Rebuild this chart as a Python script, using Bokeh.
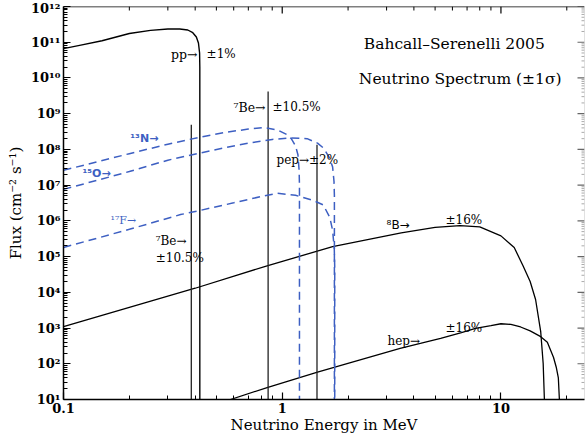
import math
from bokeh.plotting import figure
from bokeh.models import FixedTicker, Range1d, ColumnDataSource, CustomJSTickFormatter, Span
from bokeh.core.properties import value
from bokeh.embed import file_html
from bokeh.resources import INLINE

# ---------------- data ----------------
pp_E = [0.1, 0.12, 0.15, 0.2, 0.25, 0.3, 0.34, 0.37, 0.39, 0.405, 0.414, 0.419, 0.42, 0.42]
pp_flux = [6.6e10, 8.3e10, 1.1e11, 1.75e11, 2.15e11, 2.35e11, 2.35e11, 2.2e11, 1.85e11,
           1.4e11, 9.5e10, 5e10, 2e10, 1e1]

b8_E = [0.1, 0.2, 0.4, 0.86, 1.7, 3.5, 5.0, 6.5, 8.0, 10.0, 11.5, 12.6, 13.6, 14.4, 15.2, 15.6, 15.8]
b8_flux = [1.1e3, 3.8e3, 1.3e4, 5.6e4, 1.9e5, 4.6e5, 6.6e5, 7.4e5, 6.8e5, 3.8e5, 1.8e5,
           5.6e4, 2.0e4, 6.3e3, 7.9e2, 1e2, 1e1]

hep_E = [0.58, 0.86, 1.45, 3.46, 4.28, 5.3, 6.6, 7.65, 9.0, 10.0, 11.1, 12.3, 13.6, 15.2,
         16.3, 17.4, 17.9, 18.3, 18.5]
hep_flux = [1e1, 22, 58, 270, 370, 510, 740, 980, 1.17e3, 1.32e3, 1.26e3, 1.07e3, 830, 575,
            400, 150, 80, 40, 1e1]

n13_E = [0.1, 0.2, 0.3, 0.42, 0.55, 0.7, 0.82, 0.95, 1.05, 1.1, 1.15, 1.18, 1.195, 1.199, 1.199]
n13_flux = [2.6e7, 7.6e7, 1.4e8, 2.2e8, 3.0e8, 3.7e8, 4.1e8, 3.5e8, 2.6e8, 2.0e8, 1.26e8,
            7.1e7, 2.5e7, 1e7, 1e1]

o15_E = [0.1, 0.2, 0.3, 0.42, 0.55, 0.7, 0.9, 1.1, 1.3, 1.45, 1.55, 1.65, 1.70, 1.725, 1.732, 1.732]
o15_flux = [7.6e6, 2.4e7, 5.0e7, 7.9e7, 1.12e8, 1.5e8, 1.9e8, 2.1e8, 2.0e8, 1.5e8, 1.07e8,
            5.6e7, 3.2e7, 1.26e7, 5e6, 1e1]

f17_E = [0.1, 0.2, 0.343, 0.42, 0.6, 0.8, 0.95, 1.15, 1.39, 1.54, 1.65, 1.70, 1.73, 1.738, 1.738]
f17_flux = [1.8e5, 5.8e5, 1.5e6, 1.95e6, 3.2e6, 4.8e6, 5.9e6, 5.2e6, 3.7e6, 2.8e6, 1.26e6,
            5.4e5, 1.6e5, 5e4, 1e1]

line_E = [0.384, 0.862, 1.442]          # 7Be, 7Be, pep lines
line_flux = [4.9e8, 4.2e9, 1.35e8]

x_ticks = [0.1, 1, 10]
x_tick_labels = ["0.1", "1", "10"]
x_minor = [0.2, 0.3, 0.4, 0.5, 0.6, 0.7, 0.8, 0.9, 2, 3, 4, 5, 6, 7, 8, 9, 20]
y_ticks = [1e1, 1e2, 1e3, 1e4, 1e5, 1e6, 1e7, 1e8, 1e9, 1e10, 1e11, 1e12]
y_tick_labels = ["10¹", "10²", "10³", "10⁴", "10⁵", "10⁶", "10⁷", "10⁸", "10⁹",
                 "10¹⁰", "10¹¹", "10¹²"]
y_minor = [k * 10.0 ** e for e in range(1, 12) for k in range(2, 10)]

Y_MIN, Y_MAX = 1e1, 1e12
X_MIN, X_MAX = 0.1, 24.1

FONT = "DejaVu Serif"
SANS = "DejaVu Sans"
BLUE = "#3d5fc2"

# ---------------- figure ----------------
p = figure(width=585, height=437, x_axis_type="log", y_axis_type="log",
           x_range=Range1d(X_MIN, X_MAX), y_range=Range1d(Y_MIN, Y_MAX),
           output_backend="svg", toolbar_location=None,
           min_border_left=63, min_border_right=1, min_border_top=6, min_border_bottom=38)
p.outline_line_color = None
p.grid.visible = False

LOOKUP = ("const i = tv.findIndex(t => Math.abs(t - tick) <= 1e-6 * Math.abs(t));"
          "return i >= 0 ? tl[i] : '';")

def style_axis(ax):
    ax.major_tick_in = 7
    ax.major_tick_out = 0
    ax.minor_tick_in = 4
    ax.minor_tick_out = 0
    ax.axis_line_width = 1.5
    ax.major_tick_line_width = 1.2
    ax.major_label_text_font = FONT
    ax.major_label_text_font_size = "13px"
    ax.major_label_text_font_style = "bold"
    ax.major_label_text_color = "black"
    ax.axis_label_text_font = FONT
    ax.axis_label_text_font_size = "15px"
    ax.axis_label_text_font_style = "normal"
    ax.axis_label_text_color = "black"

xa = p.xaxis[0]
ya = p.yaxis[0]
xa.ticker = FixedTicker(ticks=x_ticks, minor_ticks=x_minor)
ya.ticker = FixedTicker(ticks=y_ticks, minor_ticks=y_minor)
xa.formatter = CustomJSTickFormatter(args=dict(tv=x_ticks, tl=x_tick_labels), code=LOOKUP)
ya.formatter = CustomJSTickFormatter(args=dict(tv=y_ticks, tl=y_tick_labels), code=LOOKUP)
style_axis(xa)
style_axis(ya)
xa.axis_label = "Neutrino Energy in MeV"
ya.axis_label = "Flux (cm⁻² s⁻¹)"
xa.major_label_standoff = 3
xa.axis_label_standoff = 0
ya.major_label_standoff = 3
ya.axis_label_standoff = 3

# frame edges on the top (solid) and right (dotted grey)
p.add_layout(Span(location=Y_MAX, dimension="width", line_color="black", line_width=1.5))
p.add_layout(Span(location=X_MAX, dimension="height", line_color="#888888",
                  line_width=1, line_dash="1 1"))

# inward ticks on the top and right edges
p.ray(x=x_ticks, y=[Y_MAX] * len(x_ticks), length=7, length_units="screen",
      angle=-math.pi / 2, line_color="black", line_width=1.2)
p.ray(x=x_minor, y=[Y_MAX] * len(x_minor), length=4, length_units="screen",
      angle=-math.pi / 2, line_color="black", line_width=1)
p.ray(x=[X_MAX] * len(y_ticks), y=y_ticks, length=7, length_units="screen",
      angle=math.pi, line_color="#666666", line_width=1.2)
p.ray(x=[X_MAX] * len(y_minor), y=y_minor, length=3, length_units="screen",
      angle=math.pi, line_color="#aaaaaa", line_width=1)

# ---------------- curves ----------------
p.line(pp_E, pp_flux, line_color="black", line_width=1.4)
p.line(b8_E, b8_flux, line_color="black", line_width=1.3)
p.line(hep_E, hep_flux, line_color="black", line_width=1.3)
p.segment(x0=line_E, y0=[Y_MIN] * len(line_E), x1=line_E, y1=line_flux,
          line_color="#222222", line_width=1.3)

for E, F in ((n13_E, n13_flux), (o15_E, o15_flux), (f17_E, f17_flux)):
    p.line(E, F, line_color=BLUE, line_width=1.5, line_dash="8 5")

# ---------------- labels ----------------
def add_text(texts, xs, ys, font, size, color="black", align="left", style="normal"):
    src = ColumnDataSource(dict(x=xs, y=ys, t=texts))
    p.text(x="x", y="y", text="t", source=src, text_font=value(font),
           text_font_size=size, text_color=color, text_align=align,
           text_baseline="middle", text_font_style=style)

add_text(["pp→", "⁷Be→"], [0.41, 0.839], [4.5e10, 1.49e9], FONT, "12.5px", align="right")
add_text(["±1%", "±10.5%", "pep→±2%", "⁷Be→", "±10.5%", "±16%", "hep→", "±16%"],
         [0.451, 0.903, 0.942, 0.264, 0.264, 5.58, 3.03, 5.58],
         [4.8e10, 1.49e9, 4.9e7, 2.8e5, 9.4e4, 1.03e6, 421, 973], FONT, "12px")
add_text(["⁸B→"], [3.0], [7.9e5], SANS, "12px")
add_text(["¹³N→", "¹⁵O→"], [0.202, 0.122], [2.0e8, 2.1e7], SANS, "11px", color=BLUE, style="bold")
add_text(["¹⁷F→"], [0.164], [1.03e6], FONT, "11px", color=BLUE)
add_text(["Bahcall–Serenelli 2005", "Neutrino Spectrum (±1σ)"],
         [2.36, 2.24], [9.2e10, 9.1e9], FONT, "15.5px")

open("out.html", "w").write(file_html(p, INLINE))
